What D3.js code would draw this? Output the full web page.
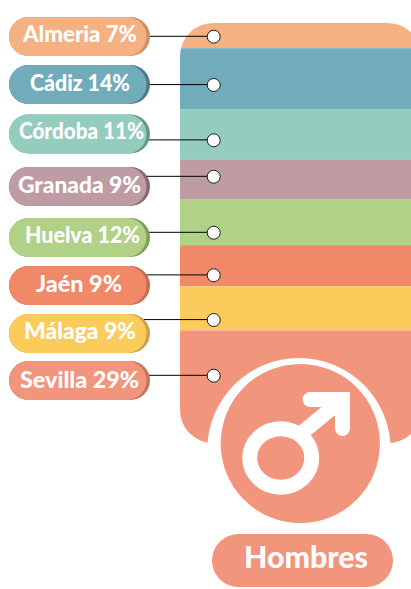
<!DOCTYPE html>
<html>
<head>
<meta charset="utf-8">
<script src="https://cdn.jsdelivr.net/npm/d3@7"></script>
<style>
  html, body { margin: 0; padding: 0; background: #fff; }
  svg { display: block; }
  text { font-family: "Lato", sans-serif; font-weight: 900; fill: #fff; text-anchor: middle; }
</style>
</head>
<body>
<div id="chart"></div>
<script>
// values
const provinces = ["Almeria", "Cádiz", "Córdoba", "Granada", "Huelva", "Jaén", "Málaga", "Sevilla"];
const percents = [7, 14, 11, 9, 12, 9, 9, 29];
// share of the bar each band really takes in the picture (not the same as the label)
const bandShares = [6, 14.5, 12.1, 9.3, 11, 9.8, 10.5, 26.8];
// where the dot and the label sit along the bar, 0-100
const dotAlong = [3.26, 14.76, 27.93, 36.6, 49.93, 60.07, 70.71, 83.98];
const labelAlong = [3.2, 14.64, 26.43, 38.93, 51.07, 62.5, 73.93, 85.12];
const genderLabel = "Hombres";

const fills = ["#f6b183", "#71acbb", "#94cdbd", "#bf9ca3", "#b0d186", "#f08967", "#fbcb5b", "#f2957d"];
const shades = ["#cf8f5f", "#4a7a86", "#5f9a88", "#86686f", "#7f9e5c", "#c46c50", "#c9a24a", "#c8735c"];

// the label text is hand set in the original, so fit it one by one
const textWidths = [114, 100, 125, 123, 115, 86, 112, 119];
const textCenters = [80, 80, 81.5, 79.5, 82.5, 79, 80, 79.5];
const textDrops = [5.4, 7, 5.4, 6.8, 5.4, 6.2, 5.8, 7];

// ---------------------------------------
// svg params
const width = 411;
const height = 589;
const bar = {left: 180, right: 421, top: 23, bottom: 443, radius: 33};
const pill = {left: 9, right: 150, height: 39, shadow: 3.5};
const dotX = 213.7;

const svg = d3.select("#chart")
    .append("svg")
    .attr("width", width)
    .attr("height", height);

const y = d3.scaleLinear()
    .domain([0, 100])
    .range([bar.top, bar.bottom]);

const color = d3.scaleOrdinal().domain(provinces).range(fills);
const shade = d3.scaleOrdinal().domain(provinces).range(shades);

// ---------------------------------------
// stacked bar, rounded through a clip
svg.append("clipPath")
    .attr("id", "barClip")
    .append("rect")
    .attr("x", bar.left)
    .attr("y", bar.top)
    .attr("width", bar.right - bar.left)
    .attr("height", bar.bottom - bar.top)
    .attr("rx", bar.radius);

// one row, one key per province
const row = {};
provinces.forEach((name, i) => {
  row[name] = bandShares[i];
});
const series = d3.stack().keys(provinces)([row]);

svg.append("g")
    .attr("clip-path", "url(#barClip)")
    .selectAll("rect")
    .data(series)
    .enter()
    .append("rect")
    .attr("x", bar.left)
    .attr("y", (d) => y(d[0][0]))
    .attr("width", bar.right - bar.left)
    .attr("height", (d) => y(d[0][1]) - y(d[0][0]))
    .attr("fill", (d) => color(d.key));

// ---------------------------------------
// leader lines go under the pills, so they stop at the pill edge by themselves
svg.append("g")
    .selectAll("line")
    .data(provinces)
    .enter()
    .append("line")
    .attr("x1", pill.right - 25)
    .attr("x2", dotX)
    .attr("y1", (d, i) => y(dotAlong[i]) - 0.4)
    .attr("y2", (d, i) => y(dotAlong[i]) - 0.4)
    .attr("stroke", "#000")
    .attr("stroke-width", 1);

svg.append("g")
    .selectAll("circle")
    .data(provinces)
    .enter()
    .append("circle")
    .attr("cx", dotX)
    .attr("cy", (d, i) => y(dotAlong[i]))
    .attr("r", 6.5)
    .attr("fill", "#fff")
    .attr("stroke", "#1a1a1a")
    .attr("stroke-width", 1);

// ---------------------------------------
// pills
const labels = svg.append("g")
    .selectAll("g")
    .data(provinces)
    .enter()
    .append("g")
    .attr("transform", (d, i) => "translate(0," + y(labelAlong[i]) + ")");

labels.append("rect")
    .attr("x", pill.left)
    .attr("y", -pill.height / 2)
    .attr("width", pill.right - pill.left)
    .attr("height", pill.height)
    .attr("rx", pill.height / 2)
    .attr("fill", (d) => shade(d));

labels.append("rect")
    .attr("x", pill.left)
    .attr("y", -pill.height / 2)
    .attr("width", pill.right - pill.left - pill.shadow)
    .attr("height", pill.height)
    .attr("rx", pill.height / 2)
    .attr("fill", (d) => color(d));

labels.append("text")
    .attr("x", (d, i) => textCenters[i])
    .attr("y", (d, i) => textDrops[i])
    .attr("font-size", 22.5)
    .attr("textLength", (d, i) => textWidths[i])
    .attr("lengthAdjust", "spacingAndGlyphs")
    .text((d, i) => d + " " + percents[i] + "%");

// ---------------------------------------
// gender badge
const badgeColor = color("Sevilla");
const badge = {x: 300.3, y: 443.5, r: 79.6};

svg.append("circle")
    .attr("cx", 299)
    .attr("cy", 449.7)
    .attr("r", 91.7)
    .attr("fill", "#fff");

svg.append("circle")
    .attr("cx", badge.x)
    .attr("cy", badge.y)
    .attr("r", badge.r)
    .attr("fill", badgeColor);

const symbol = svg.append("g")
    .attr("fill", "none")
    .attr("stroke", "#fff")
    .attr("stroke-width", 15);

symbol.append("ellipse")
    .attr("cx", 280.7)
    .attr("cy", 458)
    .attr("rx", 31)
    .attr("ry", 29.2);

symbol.append("path")
    .attr("d", d3.line()([[298, 436], [343, 399]]));

symbol.append("path")
    .attr("stroke-linecap", "round")
    .attr("stroke-linejoin", "miter")
    .attr("d", d3.line()([[310, 399.5], [342.5, 399.5], [342.5, 428.5]]));

svg.append("rect")
    .attr("x", 212)
    .attr("y", 534)
    .attr("width", 181)
    .attr("height", 53)
    .attr("rx", 26.5)
    .attr("fill", badgeColor);

svg.append("text")
    .attr("x", 306)
    .attr("y", 568)
    .attr("font-size", 31)
    .attr("textLength", 124)
    .attr("lengthAdjust", "spacingAndGlyphs")
    .text(genderLabel);
</script>
</body>
</html>
